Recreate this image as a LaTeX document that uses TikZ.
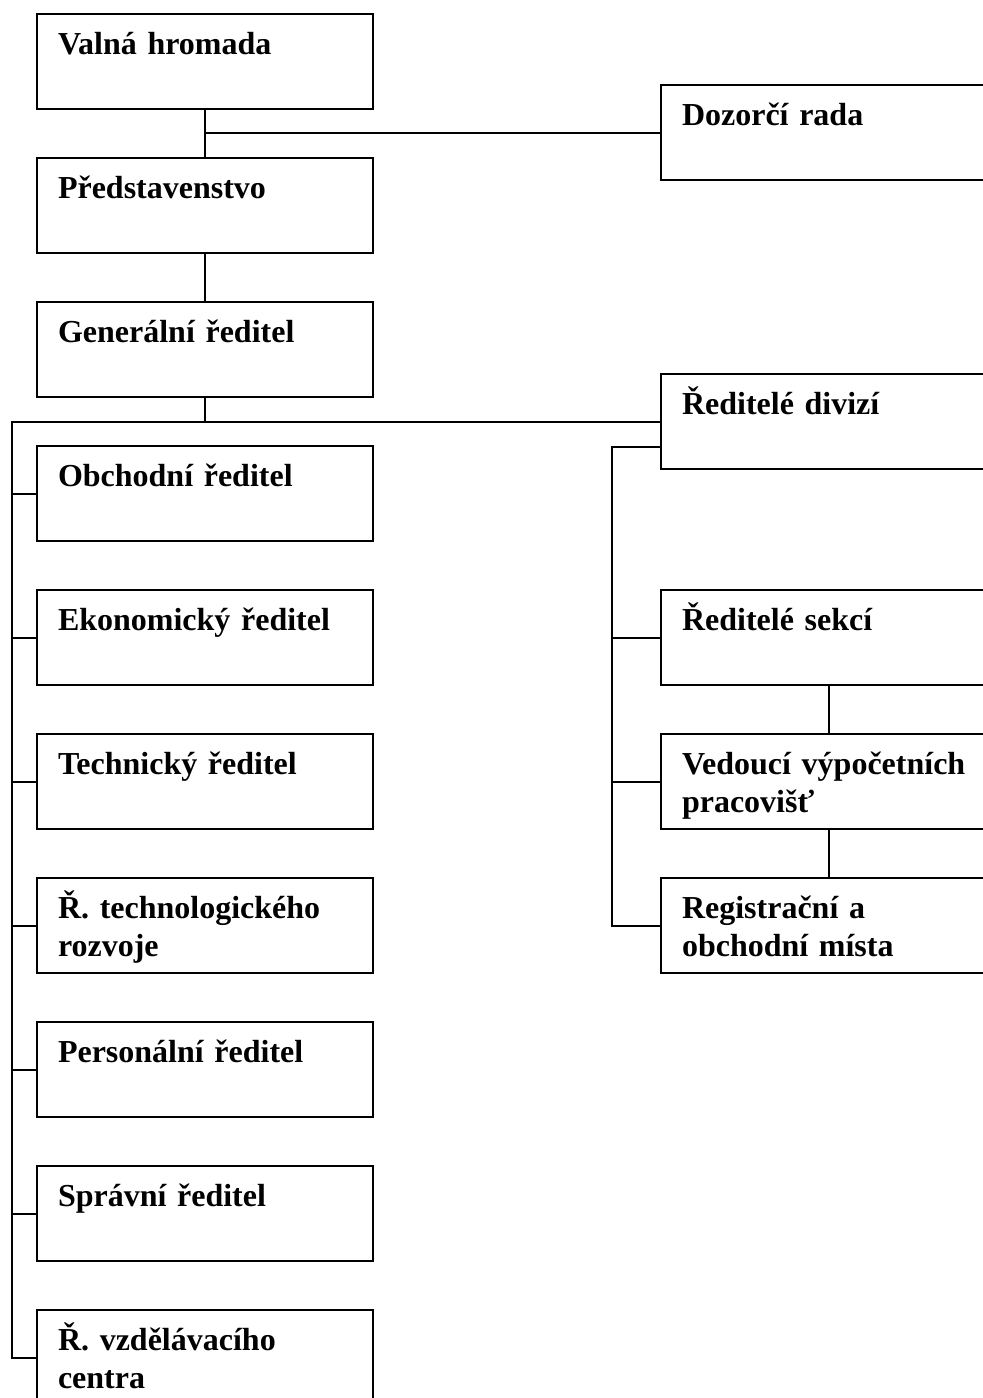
\documentclass[tikz,border=0pt]{standalone}
\usepackage{fontspec}
\setmainfont{Liberation Serif}
\usepackage{tikz}

\begin{document}
\begin{tikzpicture}[x=0.5pt, y=-0.5pt,
    orgbox/.style={draw, line width=1pt, rectangle, anchor=north west,
        text width=147pt, minimum width=168pt, inner xsep=10.5pt, inner ysep=0pt,
        text height=20pt, text depth=27.5pt, align=left,
        font=\fontsize{16pt}{19pt}\selectfont\bfseries},
    link/.style={line width=1pt}]
    \useasboundingbox (0, 0) rectangle (983, 1398);

    \node[orgbox] (valna) at (36, 13) {Valná hromada};
    \node[orgbox] (pred) at (36, 157) {Představenstvo};
    \node[orgbox] (gen) at (36, 301) {Generální ředitel};
    \node[orgbox] (obchodni) at (36, 445) {Obchodní ředitel};
    \node[orgbox] (ekonom) at (36, 589) {Ekonomický ředitel};
    \node[orgbox] (techn) at (36, 733) {Technický ředitel};
    \node[orgbox] (rozvoj) at (36, 877) {Ř. technologického\\rozvoje};
    \node[orgbox] (personal) at (36, 1021) {Personální ředitel};
    \node[orgbox] (spravni) at (36, 1165) {Správní ředitel};
    \node[orgbox] (vzdel) at (36, 1309) {Ř. vzdělávacího\\centra};

    \node[orgbox] (dozorci) at (660, 84) {Dozorčí rada};
    \node[orgbox] (divize) at (660, 373) {Ředitelé divizí};
    \node[orgbox] (sekce) at (660, 589) {Ředitelé sekcí};
    \node[orgbox] (vedouci) at (660, 733) {Vedoucí výpočetních\\pracovišť};
    \node[orgbox] (reg) at (660, 877) {Registrační a\\obchodní místa};

    \coordinate (rail) at (12, 0);
    \coordinate (rrail) at (612, 0);

    \draw[link] (valna) -- (pred);
    \draw[link] (valna.south |- dozorci.west) -- (dozorci.west);
    \draw[link] (pred) -- (gen);
    \draw[link] (gen.south) -- (gen.south |- divize.west);
    \draw[link] (divize.west) -- (rail |- divize.west) -- (rail |- vzdel.west) -- (vzdel.west);
    \foreach \n in {obchodni, ekonom, techn, rozvoj, personal, spravni}
        \draw[link] (rail |- \n.west) -- (\n.west);

    \draw[link] ([yshift=11.5pt]divize.south west) -| (rrail |- reg.west) -- (reg.west);
    \foreach \n in {sekce, vedouci}
        \draw[link] (rrail |- \n.west) -- (\n.west);
    \draw[link] (sekce) -- (vedouci);
    \draw[link] (vedouci) -- (reg);

\end{tikzpicture}
\end{document}
